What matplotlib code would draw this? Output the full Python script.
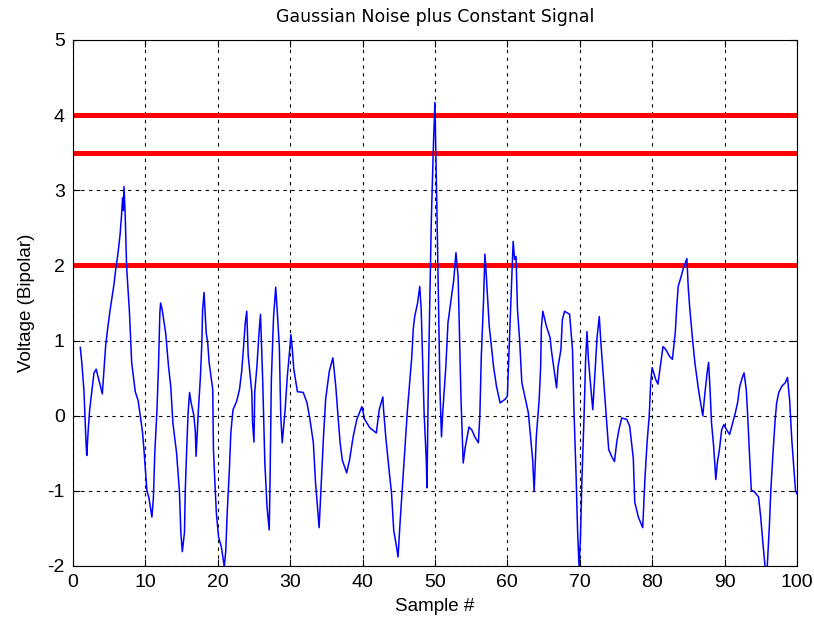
import matplotlib
matplotlib.use("Agg")
import matplotlib.pyplot as plt

sample_x = [1.0, 1.2, 1.5, 1.8, 1.9, 2.1, 2.3, 2.6, 2.9, 3.2, 3.5, 3.8, 4.05,
            4.3, 4.5, 4.8, 5.1, 5.3, 5.66, 5.9, 6.2, 6.5, 6.7, 6.85, 6.95, 7.04,
            7.2, 7.4, 7.8, 8.1, 8.6, 9.0, 9.3, 9.6, 9.8, 10.2, 10.5, 10.9, 11.1,
            11.3, 11.6, 11.8, 12.0, 12.1, 12.3, 12.8, 13.2, 13.5, 13.8, 14.3,
            14.7, 14.9, 15.1, 15.4, 15.5, 15.7, 15.9, 16.1, 16.3, 16.7, 16.9,
            17.0, 17.3, 17.6, 17.8, 17.9, 18.1, 18.4, 18.6, 18.8, 19.3, 19.4,
            19.6, 19.8, 20.1, 20.5, 20.9, 21.1, 21.3, 21.6, 21.8, 22.1, 22.6,
            23.0, 23.3, 23.5, 23.8, 24.0, 24.2, 24.7, 24.8, 25.0, 25.1, 25.4,
            25.7, 25.9, 26.2, 26.5, 26.8, 27.1, 27.2, 27.4, 27.7, 28.0, 28.2,
            28.5, 28.7, 28.9, 29.3, 29.6, 29.9, 30.1, 30.3, 30.5, 31.0, 31.8,
            32.3, 32.7, 33.2, 33.5, 34.0, 34.3, 34.6, 34.9, 35.4, 35.9, 36.3,
            36.6, 36.9, 37.2, 37.8, 38.2, 38.7, 39.2, 39.9, 40.3, 41.0, 41.9,
            42.3, 42.8, 42.9, 43.2, 43.7, 44.0, 44.3, 44.7, 44.9, 45.2, 45.5,
            45.9, 46.2, 46.5, 46.8, 47.0, 47.2, 47.6, 47.9, 48.1, 48.3, 48.5,
            48.8, 48.9, 49.1, 49.3, 49.5, 49.8, 50.0, 50.1, 50.3, 50.5, 50.7,
            50.9, 51.1, 51.5, 51.8, 52.3, 52.6, 52.9, 53.2, 53.4, 53.6, 53.9,
            54.2, 54.7, 55.1, 55.5, 56.0, 56.2, 56.4, 56.7, 56.9, 57.1, 57.5,
            58.1, 58.5, 59.0, 59.7, 60.0, 60.3, 60.5, 60.8, 61.0, 61.2, 61.4,
            61.7, 62.0, 62.4, 62.9, 63.2, 63.5, 63.7, 64.0, 64.4, 64.6, 64.7,
            64.9, 65.4, 65.9, 66.1, 66.4, 66.8, 67.0, 67.4, 67.6, 67.9, 68.6,
            69.0, 69.2, 69.5, 69.7, 69.9, 70.1, 70.3, 70.6, 70.8, 71.0, 71.2,
            71.4, 71.8, 72.1, 72.4, 72.7, 72.9, 73.3, 73.6, 74.0, 74.4, 74.8,
            75.1, 75.4, 75.8, 76.5, 76.9, 77.4, 77.6, 78.1, 78.7, 79.0, 79.3,
            79.6, 79.8, 80.0, 80.5, 80.8, 81.2, 81.5, 81.9, 82.4, 82.8, 83.2,
            83.4, 83.6, 84.0, 84.3, 84.8, 85.0, 85.2, 85.6, 85.9, 86.4, 86.7,
            87.0, 87.3, 87.6, 87.8, 88.0, 88.2, 88.5, 88.8, 89.0, 89.3, 89.6,
            89.9, 90.3, 90.7, 91.0, 91.5, 91.8, 92.1, 92.5, 92.7, 93.0, 93.2,
            93.4, 93.7, 94.1, 94.7, 95.0, 95.3, 95.6, 95.9, 96.2, 96.4, 96.7,
            97.0, 97.2, 97.5, 97.9, 98.4, 98.7, 99.0, 99.3, 99.5, 99.8, 100.0]

voltage = [0.91, 0.72, 0.35, -0.36, -0.53, -0.19, 0.08, 0.33, 0.57, 0.62, 0.5,
           0.39, 0.29, 0.65, 0.92, 1.17, 1.39, 1.52, 1.75, 1.95, 2.15, 2.41,
           2.66, 2.9, 2.73, 3.05, 2.7, 1.99, 1.37, 0.71, 0.32, 0.2, -0.01,
           -0.22, -0.45, -0.99, -1.1, -1.35, -1.1, -0.49, 0.08, 0.64, 1.37,
           1.5, 1.42, 1.1, 0.65, 0.39, -0.1, -0.49, -1.01, -1.56, -1.81,
           -1.55, -1.02, -0.45, 0.04, 0.31, 0.18, 0.0, -0.22, -0.54, 0.04,
           0.52, 0.98, 1.4, 1.64, 1.1, 0.98, 0.71, 0.35, -0.45, -0.89, -1.29,
           -1.61, -1.75, -2.01, -1.8, -1.29, -0.72, -0.23, 0.08, 0.19, 0.35,
           0.59, 0.84, 1.24, 1.39, 0.8, 0.31, -0.09, -0.35, 0.31, 0.65, 1.11,
           1.35, 0.48, -0.63, -1.21, -1.52, -0.99, 0.48, 1.31, 1.71, 1.41,
           0.92, -0.01, -0.36, 0.08, 0.52, 0.84, 1.08, 0.88, 0.62, 0.32, 0.31,
           0.18, -0.03, -0.36, -0.89, -1.49, -0.89, -0.28, 0.22, 0.59, 0.77,
           0.39, 0.0, -0.36, -0.59, -0.76, -0.59, -0.28, -0.05, 0.12, -0.05,
           -0.16, -0.23, 0.08, 0.25, 0.08, -0.28, -0.76, -1.03, -1.52, -1.75,
           -1.88, -1.39, -0.95, -0.36, 0.08, 0.44, 0.79, 1.15, 1.32, 1.5, 1.72,
           1.41, 0.75, 0.04, -0.59, -0.96, 0.57, 1.59, 2.61, 3.64, 4.17, 3.6,
           2.57, 1.41, 0.31, -0.28, 0.08, 0.65, 1.24, 1.59, 1.81, 2.17, 1.85,
           1.01, 0.21, -0.63, -0.41, -0.15, -0.19, -0.28, -0.36, 0.0, 0.79,
           1.5, 2.15, 1.85, 1.19, 0.65, 0.39, 0.17, 0.22, 0.26, 1.05, 1.55,
           2.32, 2.08, 2.12, 1.41, 1.0, 0.44, 0.26, 0.04, -0.28, -0.59, -1.01,
           -0.28, 0.22, 0.65, 1.17, 1.39, 1.19, 1.04, 0.86, 0.65, 0.37, 0.65,
           0.88, 1.28, 1.39, 1.35, 0.88, 0.08, -0.81, -1.52, -2.01, -1.63,
           -0.85, 0.0, 0.71, 1.12, 0.75, 0.52, 0.08, 0.57, 1.05, 1.32, 1.0,
           0.48, 0.08, -0.45, -0.54, -0.61, -0.36, -0.19, -0.03, -0.05, -0.14,
           -0.57, -1.15, -1.35, -1.49, -0.85, -0.36, 0.0, 0.44, 0.64, 0.48,
           0.42, 0.71, 0.92, 0.88, 0.79, 0.75, 1.11, 1.45, 1.72, 1.85, 1.96,
           2.09, 1.69, 1.43, 1.0, 0.71, 0.35, 0.17, 0.0, 0.31, 0.57, 0.71,
           0.35, -0.09, -0.41, -0.85, -0.63, -0.45, -0.19, -0.12, -0.19,
           -0.25, -0.14, 0.04, 0.17, 0.39, 0.52, 0.57, 0.35, 0.0, -0.41,
           -0.99, -1.01, -1.08, -1.35, -1.69, -2.01, -2.01, -1.46, -0.99,
           -0.49, -0.05, 0.17, 0.31, 0.39, 0.44, 0.51, 0.2, -0.33, -0.59,
           -0.99, -1.04]

threshold_levels = [4.0, 3.5, 2.0]
x_ticks = [0, 10, 20, 30, 40, 50, 60, 70, 80, 90, 100]
y_ticks = [-2, -1, 0, 1, 2, 3, 4, 5]

plt.rcParams['font.family'] = ['Liberation Sans', 'DejaVu Sans']
plt.rcParams['axes.unicode_minus'] = False

fig = plt.figure(figsize=(8.14, 6.2), dpi=100)
ax = fig.add_axes([0.0897, 0.0871, 0.8893, 0.8484])

ax.plot(sample_x, voltage, color='#0000ff', linewidth=1.1, zorder=3)
for lvl in threshold_levels:
    ax.axhline(lvl, color='#ff0000', linewidth=3.6, zorder=2)

ax.set_xlim(0, 100)
ax.set_ylim(-2, 5)
ax.set_xticks(x_ticks)
ax.set_yticks(y_ticks)
ax.grid(True, color='black', linestyle=(0, (3, 4)), linewidth=0.8)
ax.tick_params(direction='in', top=True, right=True, labelsize=14, length=5, pad=6)
for s in ax.spines.values():
    s.set_linewidth(0.8)

ax.set_title('Gaussian Noise plus Constant Signal', fontsize=12.5, pad=13,
             family=['DejaVu Sans'])
ax.set_xlabel('Sample #', fontsize=13.5, labelpad=5)
ax.set_ylabel('Voltage (Bipolar)', fontsize=13.5, labelpad=9)

fig.savefig('out.png', dpi=100)
